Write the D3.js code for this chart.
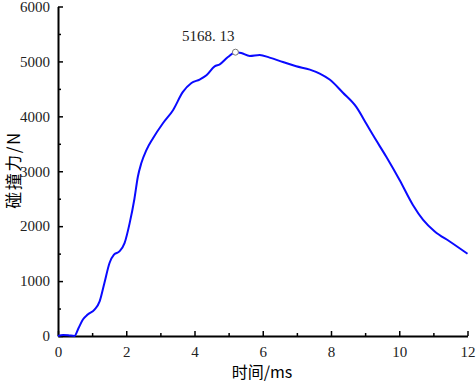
<!DOCTYPE html>
<html lang="zh">
<head>
    <meta charset="UTF-8">
    <title>碰撞力曲线</title>
    <script src="https://d3js.org/d3.v7.min.js"></script>
    <style>
        body { margin: 0; background: #fff; }
    </style>
</head>
<body>
    <div id="chart"></div>

    <script>
        // values
        const timeMs = [0, 0.15, 0.3, 0.48, 0.6, 0.73, 0.87, 1.07, 1.22, 1.36, 1.51, 1.64, 1.8, 1.95, 2.1, 2.24,
            2.34, 2.44, 2.59, 2.78, 3.07, 3.37, 3.66, 3.91, 4.15, 4.35, 4.59, 4.74, 4.98, 5.2, 5.37, 5.62, 5.91,
            6.2, 6.59, 6.98, 7.38, 7.67, 7.96, 8.35, 8.74, 9.04, 9.23, 9.62, 10.01, 10.4, 10.7, 11.04, 11.48, 12.0];
        const forceN = [0, 20, 15, 0, 140, 300, 390, 480, 630, 965, 1330, 1480, 1540, 1690, 2055, 2500,
            2900, 3144, 3386, 3598, 3870, 4112, 4444, 4608, 4670, 4748, 4911, 4947, 5080, 5168.13, 5152, 5098, 5116,
            5069, 4989, 4911, 4851, 4779, 4670, 4430, 4172, 3860, 3658, 3264, 2841, 2387, 2115, 1903, 1721, 1498];
        const xTicks = [0, 2, 4, 6, 8, 10, 12];
        const yTicks = [0, 1000, 2000, 3000, 4000, 5000, 6000];
        const peakTime = 5.2;
        const peakValue = 5168.13;
        const peakLabel = "5168. 13";

        const width = 476;
        const height = 381;
        const numFont = "Liberation Serif, DejaVu Serif, serif";
        const cjkFont = "Noto Sans CJK SC, sans-serif";

        const svg = d3.select("#chart").append("svg")
            .attr("width", width)
            .attr("height", height);

        const x = d3.scaleLinear().domain([0, 12]).range([58, 467.5]);
        const y = d3.scaleLinear().domain([0, 6000]).range([336, 6.5]);

        // minor ticks
        svg.append("g")
            .attr("transform", "translate(0,336)")
            .call(d3.axisBottom(x).tickValues(d3.range(1, 12, 2)).tickSizeInner(-3).tickSizeOuter(0).tickFormat(""))
            .call(g => g.select(".domain").remove());
        svg.append("g")
            .attr("transform", "translate(58,0)")
            .call(d3.axisLeft(y).tickValues(d3.range(500, 6000, 1000)).tickSizeInner(-3).tickSizeOuter(0).tickFormat(""))
            .call(g => g.select(".domain").remove());

        svg.append("g")
            .attr("transform", "translate(0,336)")
            .attr("font-family", numFont)
            .call(d3.axisBottom(x).tickValues(xTicks).tickSizeInner(-5).tickSizeOuter(0).tickPadding(10)
                .tickFormat(d3.format("d")))
            .attr("font-family", numFont)
            .attr("font-size", 15);
        svg.append("g")
            .attr("transform", "translate(58,0)")
            .call(d3.axisLeft(y).tickValues(yTicks).tickSizeInner(-5).tickSizeOuter(0).tickPadding(8)
                .tickFormat(d3.format("d")))
            .attr("font-family", numFont)
            .attr("font-size", 15);

        svg.selectAll(".tick line").attr("stroke", "#000").attr("stroke-width", 1.5);
        svg.selectAll(".domain").attr("stroke", "#000").attr("stroke-width", 2);
        svg.selectAll(".tick text").attr("fill", "#222");

        const line = d3.line()
            .x((d, i) => x(timeMs[i]))
            .y(d => y(d))
            .curve(d3.curveMonotoneX);

        svg.append("path")
            .datum(forceN)
            .attr("fill", "none")
            .attr("stroke", "#0a0aff")
            .attr("stroke-width", 2)
            .attr("d", line);

        svg.append("circle")
            .attr("cx", x(peakTime))
            .attr("cy", y(peakValue))
            .attr("r", 3)
            .attr("fill", "#fff")
            .attr("stroke", "#777")
            .attr("stroke-width", 1);

        svg.append("text")
            .attr("x", x(peakTime) - 1)
            .attr("y", y(peakValue) - 11)
            .attr("text-anchor", "end")
            .attr("font-family", numFont)
            .attr("font-size", 15)
            .attr("fill", "#222")
            .text(peakLabel);

        svg.append("text")
            .attr("x", 262)
            .attr("y", 377.5)
            .attr("text-anchor", "middle")
            .attr("font-family", cjkFont)
            .attr("font-size", 16)
            .text("时间/ms");

        svg.append("text")
            .attr("transform", "translate(20,170) rotate(-90)")
            .attr("text-anchor", "middle")
            .attr("font-family", cjkFont)
            .attr("font-size", 17)
            .attr("letter-spacing", "1.5px")
            .text("碰撞力/N");
    </script>
</body>
</html>
